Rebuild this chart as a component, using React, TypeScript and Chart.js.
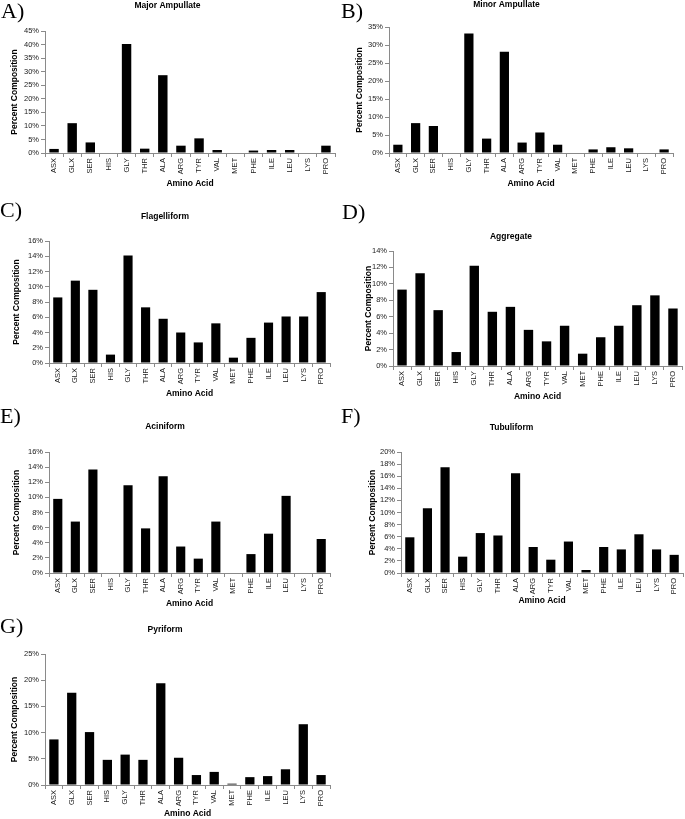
import React, { useEffect, useRef } from "react";
import { Chart, registerables } from "chart.js";

Chart.register(...registerables);

const aminoAcids = ["ASX", "GLX", "SER", "HIS", "GLY", "THR", "ALA", "ARG", "TYR", "VAL", "MET", "PHE", "ILE", "LEU", "LYS", "PRO"];

const majorAmpullate = [1.5, 11.0, 3.9, 0, 40.2, 1.6, 28.7, 2.7, 5.4, 1.1, 0, 0.9, 1.1, 1.1, 0, 2.7];
const minorAmpullate = [2.3, 8.3, 7.5, 0, 33.2, 4.0, 28.1, 2.9, 5.7, 2.3, 0, 1.0, 1.6, 1.3, 0, 1.0];
const flagelliform = [8.6, 10.8, 9.6, 1.1, 14.1, 7.3, 5.8, 4.0, 2.7, 5.2, 0.7, 3.3, 5.3, 6.1, 6.1, 9.3];
const aggregate = [9.3, 11.3, 6.8, 1.7, 12.2, 6.6, 7.2, 4.4, 3.0, 4.9, 1.5, 3.5, 4.9, 7.4, 8.6, 7.0];
const aciniform = [9.8, 6.8, 13.7, 0, 11.6, 5.9, 12.8, 3.5, 1.9, 6.8, 0, 2.5, 5.2, 10.2, 0, 4.5];
const tubuliform = [5.9, 10.7, 17.5, 2.7, 6.6, 6.2, 16.5, 4.3, 2.2, 5.2, 0.5, 4.3, 3.9, 6.4, 3.9, 3.0];
const pyriform = [8.7, 17.6, 10.1, 4.8, 5.8, 4.8, 19.4, 5.2, 1.9, 2.5, 0.25, 1.5, 1.7, 3.0, 11.6, 1.9];

const panelTitles = ["Major Ampullate", "Minor Ampullate", "Flagelliform", "Aggregate", "Aciniform", "Tubuliform", "Pyriform"];
const panelLetters = ["A)", "B)", "C)", "D)", "E)", "F)", "G)"];
const yMaxima = [45, 35, 16, 14, 16, 20, 25];
const ySteps = [5, 5, 2, 2, 2, 2, 5];
const xTitle = "Amino Acid";
const yTitle = "Percent Composition";

const seriesList = [majorAmpullate, minorAmpullate, flagelliform, aggregate, aciniform, tubuliform, pyriform];

// layout: canvas box, y-axis width, y-title offset, title paddings, x-axis height, right padding, letter position
const layouts = [
  { left: 0, top: 0, w: 340, h: 189, yW: 45, yTP: 10, tT: 1, tB: 19.8, xH: 36, pR: 5, lx: 1, ly: 0 },
  { left: 340, top: 0, w: 345, h: 189, yW: 49, yTP: 15, tT: 0, tB: 16.8, xH: 36, pR: 12, lx: 341, ly: 0 },
  { left: 0, top: 190, w: 340, h: 209, yW: 49, yTP: 12, tT: 21.9, tB: 18.9, xH: 36, pR: 10, lx: 0, ly: 199 },
  { left: 340, top: 190, w: 345, h: 212, yW: 53, yTP: 24, tT: 41.9, tB: 8.9, xH: 36, pR: 3, lx: 342, ly: 201 },
  { left: 0, top: 400, w: 340, h: 209, yW: 49, yTP: 12, tT: 21.9, tB: 19.9, xH: 36, pR: 10, lx: 0, ly: 405 },
  { left: 340, top: 400, w: 345, h: 206, yW: 61, yTP: 28, tT: 22.9, tB: 18.9, xH: 33, pR: 2, lx: 341, ly: 405 },
  { left: 0, top: 610, w: 340, h: 209, yW: 45, yTP: 10, tT: 14.9, tB: 18.9, xH: 34, pR: 10, lx: 0, ly: 615 },
];

const FONT = "'Liberation Sans', Arial, sans-serif";

function Panel({ idx }: { idx: number }) {
  const ref = useRef<HTMLCanvasElement>(null);
  const L = layouts[idx];
  useEffect(() => {
    if (!ref.current) return;
    const chart = new Chart(ref.current, {
      type: "bar",
      data: {
        labels: aminoAcids,
        datasets: [
          {
            data: seriesList[idx],
            backgroundColor: "#000",
            borderWidth: 0,
            barPercentage: 0.52,
            categoryPercentage: 1,
          },
        ],
      },
      options: {
        animation: false,
        responsive: false,
        devicePixelRatio: 1,
        layout: { padding: { left: 0, right: L.pR, top: 0, bottom: 0 } },
        plugins: {
          legend: { display: false },
          tooltip: { enabled: false },
          title: {
            display: true,
            text: panelTitles[idx],
            color: "#000",
            font: { family: FONT, size: 8.5, weight: "bold" },
            padding: { top: L.tT, bottom: L.tB },
          },
        },
        scales: {
          x: {
            offset: true,
            grid: { display: true, drawOnChartArea: false, drawTicks: true, tickLength: 4, color: "#8a8a8a", offset: true },
            border: { display: true, color: "#8a8a8a", width: 1 },
            ticks: {
              autoSkip: false,
              minRotation: 90,
              maxRotation: 90,
              padding: 1,
              color: "#1a1a1a",
              font: { family: FONT, size: 7.5 },
            },
            title: {
              display: true,
              text: xTitle,
              color: "#000",
              font: { family: FONT, size: 8.5, weight: "bold" },
              padding: 0,
            },
            afterFit: (s: any) => {
              s.height = L.xH;
            },
          },
          y: {
            min: 0,
            max: yMaxima[idx],
            grid: { display: true, drawOnChartArea: false, drawTicks: true, tickLength: 4, color: "#8a8a8a" },
            border: { display: true, color: "#8a8a8a", width: 1 },
            ticks: {
              autoSkip: false,
              stepSize: ySteps[idx],
              padding: 2,
              color: "#1a1a1a",
              font: { family: FONT, size: 7.5 },
              callback: (v: any) => `${v}%`,
            },
            title: {
              display: true,
              text: yTitle,
              color: "#000",
              font: { family: FONT, size: 8.5, weight: "bold" },
              padding: { top: L.yTP, bottom: 0 },
            },
            afterFit: (s: any) => {
              s.width = L.yW;
            },
          },
        },
      },
    } as any);
    return () => chart.destroy();
  }, [idx]);
  return (
    <>
      <canvas
        ref={ref}
        width={L.w}
        height={L.h}
        style={{ position: "absolute", left: L.left, top: L.top, width: L.w, height: L.h }}
      />
      <div
        style={{
          position: "absolute",
          left: L.lx,
          top: L.ly,
          fontFamily: "'Liberation Serif', 'Times New Roman', serif",
          fontSize: 22,
          lineHeight: 1,
          color: "#000",
          whiteSpace: "nowrap",
        }}
      >
        {panelLetters[idx]}
      </div>
    </>
  );
}

export default function App() {
  return (
    <div
      style={{
        position: "absolute",
        left: 0,
        top: 0,
        width: 685,
        height: 819,
        overflow: "hidden",
        background: "#fff",
      }}
    >
      {layouts.map((_, i) => (
        <Panel key={i} idx={i} />
      ))}
    </div>
  );
}
